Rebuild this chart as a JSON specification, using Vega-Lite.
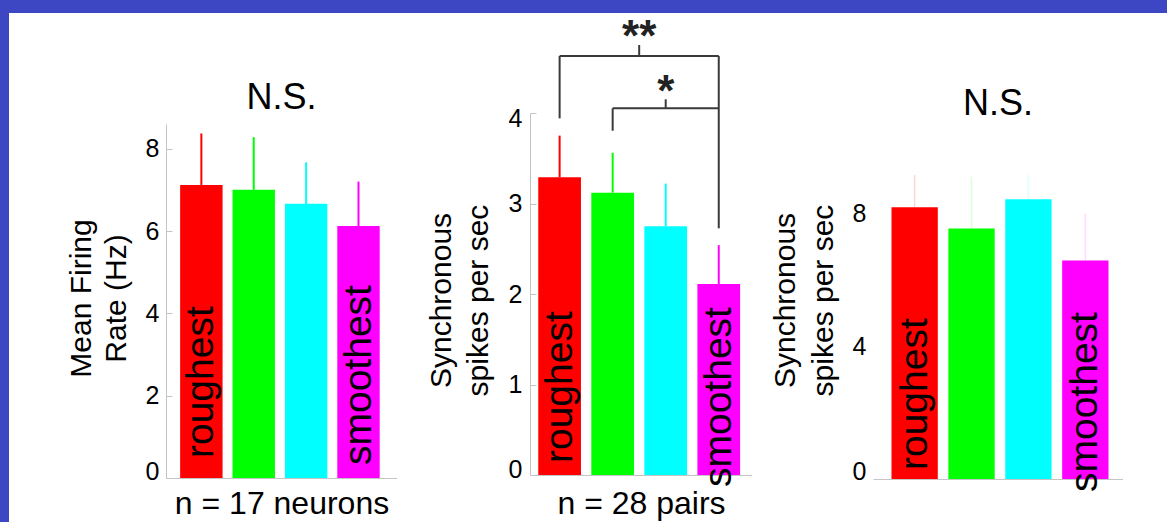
{
  "$schema": "https://vega.github.io/schema/vega-lite/v6.json",
  "background": "#3D47C4",
  "padding": {"left": 9, "top": 13, "right": 0, "bottom": 0},
  "config": {
    "font": "Liberation Sans",
    "view": {"fill": "white", "stroke": null},
    "axis": {"labelFont": "Liberation Sans", "titleFont": "Liberation Sans", "labelColor": "black", "titleColor": "black", "domainColor": "#c4c4c4", "tickColor": "#c4c4c4", "grid": false, "labelFontSize": 25, "titleFontSize": 30, "titleFontWeight": "normal"},
    "title": {"font": "Liberation Sans", "fontSize": 36, "fontWeight": "normal", "color": "black"}
  },
  "spacing": 0,
  "bounds": "flush",
  "hconcat": [
    {"width": 157, "height": 509, "view": {"fill": "white", "stroke": null}, "data": {"values": [{}]}, "mark": {"type": "text", "text": ""}, "encoding": {"x": {"datum": 0, "type": "quantitative", "axis": null}}},
    {
      "width": 231, "height": 509,
      "title": {"text": "N.S.", "frame": "group", "anchor": "middle", "baseline": "alphabetic", "offset": 0, "dy": 132},
      "data": {"values": [
        {"level": "1", "label": "roughest", "rate": 7.12, "upper": 8.37},
        {"level": "2", "label": "", "rate": 7.00, "upper": 8.28},
        {"level": "3", "label": "", "rate": 6.66, "upper": 7.67},
        {"level": "4", "label": "smoothest", "rate": 6.12, "upper": 7.20}
      ]},
      "resolve": {"axis": {"x": "independent", "y": "independent"}},
      "layer": [
        {"mark": {"type": "bar"},
         "encoding": {
           "x": {"field": "level", "type": "nominal", "scale": {"domain": ["1","2","3","4"], "paddingInner": 0.19, "paddingOuter": 0.3, "align": 0.45},
                 "axis": {"title": "n = 17 neurons", "labels": false, "ticks": false, "offset": -44, "titleFontSize": 32, "titleBaseline": "alphabetic", "titlePadding": 35}},
           "y": {"field": "rate", "type": "quantitative", "scale": {"domain": [0, 8.6], "range": [465, 111], "nice": false},
                 "axis": {"title": ["Mean Firing", "Rate (Hz)"], "values": [0,2,4,6,8], "tickSize": -6, "labelPadding": 13, "titlePadding": 14, "titleLineHeight": 35, "labelFlush": true, "labelFlushOffset": 6, "titleY": 285}},
           "color": {"field": "level", "type": "nominal", "scale": {"domain": ["1","2","3","4"], "range": ["#ff0000","#00ff00","#00ffff","#ff00ff"]}, "legend": null}
         }},
        {"mark": {"type": "rule", "strokeWidth": 2},
         "encoding": {
           "x": {"field": "level", "type": "nominal", "axis": null},
           "y": {"field": "rate", "type": "quantitative", "axis": null},
           "y2": {"field": "upper"},
           "color": {"field": "level", "type": "nominal", "legend": null}
         }},
        {"transform": [{"filter": "datum.level == '1'"}],
         "mark": {"type": "text", "angle": 270, "align": "left", "baseline": "middle", "fontSize": 39, "dx": 20, "color": "black"},
         "encoding": {
           "x": {"field": "level", "type": "nominal", "axis": null},
           "y": {"datum": 0, "type": "quantitative", "axis": null},
           "text": {"field": "label"}
         }},
        {"transform": [{"filter": "datum.level == '4'"}],
         "mark": {"type": "text", "angle": 270, "align": "left", "baseline": "middle", "fontSize": 39, "dx": 13, "color": "black"},
         "encoding": {
           "x": {"field": "level", "type": "nominal", "axis": null},
           "y": {"datum": 0, "type": "quantitative", "axis": null},
           "text": {"field": "label"}
         }}
      ]
    },
    {"width": 133, "height": 509, "view": {"fill": "white", "stroke": null}, "data": {"values": [{}]}, "mark": {"type": "text", "text": ""}, "encoding": {"x": {"datum": 0, "type": "quantitative", "axis": null}}},
    {
      "width": 222, "height": 509,
      "data": {"values": [
        {"level": "1", "label": "roughest", "rate": 3.29, "upper": 3.75},
        {"level": "2", "label": "", "rate": 3.12, "upper": 3.56},
        {"level": "3", "label": "", "rate": 2.75, "upper": 3.22},
        {"level": "4", "label": "smoothest", "rate": 2.11, "upper": 2.54}
      ]},
      "resolve": {"axis": {"x": "independent", "y": "independent"}},
      "layer": [
        {"mark": {"type": "bar"},
         "encoding": {
           "x": {"field": "level", "type": "nominal", "scale": {"domain": ["1","2","3","4"], "paddingInner": 0.195, "paddingOuter": 0.19, "align": 0.41},
                 "axis": {"title": "n = 28 pairs", "labels": false, "ticks": false, "offset": -47, "titleFontSize": 32, "titleBaseline": "alphabetic", "titlePadding": 38}},
           "y": {"field": "rate", "type": "quantitative", "scale": {"domain": [0, 4], "range": [462, 100], "nice": false},
                 "axis": {"title": ["Synchronous", "spikes per sec"], "values": [0,1,2,3,4], "tickSize": -6, "labelPadding": 14, "titlePadding": 15, "titleLineHeight": 37, "labelFlush": true, "labelFlushOffset": 7, "titleY": 287}},
           "color": {"field": "level", "type": "nominal", "scale": {"domain": ["1","2","3","4"], "range": ["#ff0000","#00ff00","#00ffff","#ff00ff"]}, "legend": null}
         }},
        {"mark": {"type": "rule", "strokeWidth": 2},
         "encoding": {
           "x": {"field": "level", "type": "nominal", "axis": null},
           "y": {"field": "rate", "type": "quantitative", "axis": null},
           "y2": {"field": "upper"},
           "color": {"field": "level", "type": "nominal", "legend": null}
         }},
        {"transform": [{"filter": "datum.level == '1'"}],
         "mark": {"type": "text", "angle": 270, "align": "left", "baseline": "middle", "fontSize": 39, "dx": 12, "color": "black"},
         "encoding": {
           "x": {"field": "level", "type": "nominal", "axis": null},
           "y": {"datum": 0, "type": "quantitative", "axis": null},
           "text": {"field": "label"}
         }},
        {"transform": [{"filter": "datum.level == '4'"}],
         "mark": {"type": "text", "angle": 270, "align": "left", "baseline": "middle", "fontSize": 39, "dx": -12, "color": "black"},
         "encoding": {
           "x": {"field": "level", "type": "nominal", "axis": null},
           "y": {"datum": 0, "type": "quantitative", "axis": null},
           "text": {"field": "label"}
         }},
        {"data": {"values": [
           {"a": "1", "b": "4", "lo": 4.63, "hi": 4.63},
           {"a": "1", "b": "1", "lo": 3.941, "hi": 4.63},
           {"a": "4", "b": "4", "lo": 2.726, "hi": 4.63},
           {"a": "2", "b": "4", "lo": 4.052, "hi": 4.052},
           {"a": "2", "b": "2", "lo": 3.804, "hi": 4.052},
           {"a": "3", "b": "3", "lo": 4.052, "hi": 4.151}
         ]},
         "mark": {"type": "rule", "strokeWidth": 2, "color": "#3a3a3a"},
         "encoding": {
           "x": {"field": "a", "type": "nominal", "axis": null},
           "x2": {"field": "b"},
           "y": {"field": "lo", "type": "quantitative", "axis": null},
           "y2": {"field": "hi"}
         }},
        {"data": {"values": [{"a": "2", "lo": 4.63, "hi": 4.751}]},
         "mark": {"type": "rule", "strokeWidth": 2, "color": "#3a3a3a"},
         "encoding": {
           "x": {"field": "a", "type": "nominal", "bandPosition": 1.121, "axis": null},
           "y": {"field": "lo", "type": "quantitative", "axis": null},
           "y2": {"field": "hi"}
         }},
        {"data": {"values": [{"a": "2", "pos": 4.69, "star": "**"}]},
         "mark": {"type": "text", "fontSize": 44, "fontWeight": "bold", "align": "center", "baseline": "alphabetic", "color": "#222222"},
         "encoding": {
           "x": {"field": "a", "type": "nominal", "bandPosition": 1.121, "axis": null},
           "y": {"field": "pos", "type": "quantitative", "axis": null},
           "text": {"field": "star"}
         }},
        {"data": {"values": [{"a": "3", "pos": 4.08, "star": "*"}]},
         "mark": {"type": "text", "fontSize": 44, "fontWeight": "bold", "align": "center", "baseline": "alphabetic", "color": "#222222"},
         "encoding": {
           "x": {"field": "a", "type": "nominal", "axis": null},
           "y": {"field": "pos", "type": "quantitative", "axis": null},
           "text": {"field": "star"}
         }}
      ]
    },
    {"width": 121, "height": 509, "view": {"fill": "white", "stroke": null}, "data": {"values": [{}]}, "mark": {"type": "text", "text": ""}, "encoding": {"x": {"datum": 0, "type": "quantitative", "axis": null}}},
    {
      "width": 250, "height": 509,
      "title": {"text": "N.S.", "frame": "group", "anchor": "middle", "baseline": "alphabetic", "offset": 0, "dy": 138},
      "data": {"values": [
        {"level": "1", "label": "roughest", "rate": 8.20, "upper": 9.17},
        {"level": "2", "label": "", "rate": 7.56, "upper": 9.12},
        {"level": "3", "label": "", "rate": 8.44, "upper": 9.17},
        {"level": "4", "label": "smoothest", "rate": 6.59, "upper": 8.01}
      ]},
      "resolve": {"axis": {"x": "independent", "y": "independent"}},
      "layer": [
        {"mark": {"type": "bar"},
         "encoding": {
           "x": {"field": "level", "type": "nominal", "scale": {"domain": ["1","2","3","4"], "paddingInner": 0.186, "paddingOuter": 0.29, "align": 0.56},
                 "axis": {"title": null, "labels": false, "ticks": false, "offset": -43}},
           "y": {"field": "rate", "type": "quantitative", "scale": {"domain": [0, 10.8], "range": [466, 108], "nice": false},
                 "axis": {"title": ["Synchronous", "spikes per sec"], "values": [0,4,8], "domain": false, "ticks": false, "labelPadding": 7, "titlePadding": 14, "titleLineHeight": 38, "labelFlush": true, "labelFlushOffset": 5, "titleY": 287}},
           "color": {"field": "level", "type": "nominal", "scale": {"domain": ["1","2","3","4"], "range": ["#ff0000","#00ff00","#00ffff","#ff00ff"]}, "legend": null}
         }},
        {"mark": {"type": "rule", "strokeWidth": 1.5, "opacity": 0.15},
         "encoding": {
           "x": {"field": "level", "type": "nominal", "axis": null},
           "y": {"field": "rate", "type": "quantitative", "axis": null},
           "y2": {"field": "upper"},
           "color": {"field": "level", "type": "nominal", "legend": null}
         }},
        {"transform": [{"filter": "datum.level == '1'"}],
         "mark": {"type": "text", "angle": 270, "align": "left", "baseline": "middle", "fontSize": 39, "dx": 9, "color": "black"},
         "encoding": {
           "x": {"field": "level", "type": "nominal", "axis": null},
           "y": {"datum": 0, "type": "quantitative", "axis": null},
           "text": {"field": "label"}
         }},
        {"transform": [{"filter": "datum.level == '4'"}],
         "mark": {"type": "text", "angle": 270, "align": "left", "baseline": "middle", "fontSize": 39, "dx": -13, "color": "black"},
         "encoding": {
           "x": {"field": "level", "type": "nominal", "axis": null},
           "y": {"datum": 0, "type": "quantitative", "axis": null},
           "text": {"field": "label"}
         }}
      ]
    },
    {"width": 44, "height": 509, "view": {"fill": "white", "stroke": null}, "data": {"values": [{}]}, "mark": {"type": "text", "text": ""}, "encoding": {"x": {"datum": 0, "type": "quantitative", "axis": null}}}
  ]
}
